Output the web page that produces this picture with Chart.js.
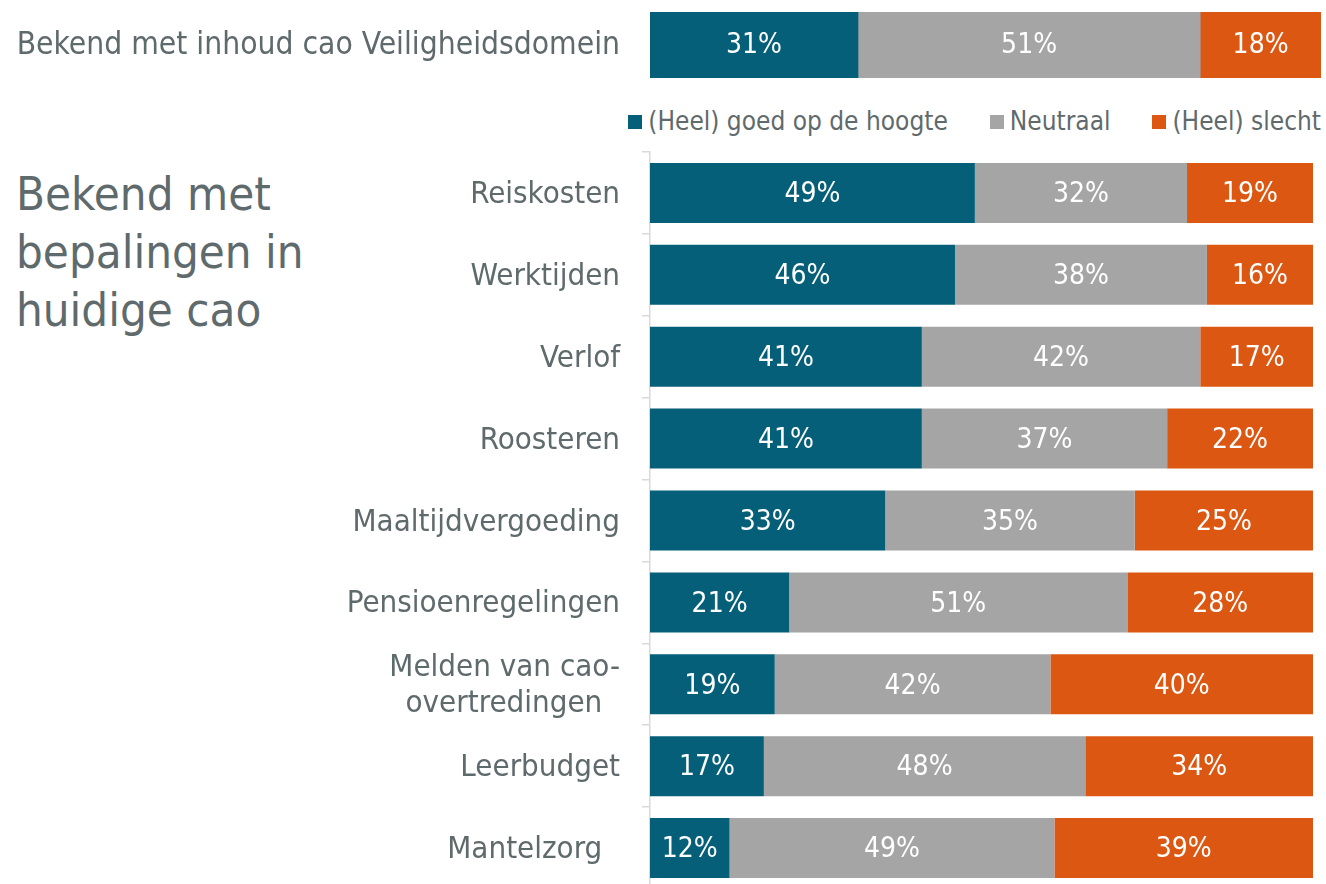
<!DOCTYPE html>
<html>
<head>
<meta charset="utf-8">
<script src="https://cdn.jsdelivr.net/npm/chart.js@4.4.1/dist/chart.umd.min.js"></script>
<style>
html, body { margin:0; padding:0; background:#fff; overflow:hidden; width:1326px; height:884px; }
body { position:relative; font-family:"DejaVu Sans Condensed", sans-serif; color:#5f6a6c; }
#topCanvas { position:absolute; left:0; top:0; }
#mainCanvas { position:absolute; left:0; top:142px; }
#titel { position:absolute; left:16px; top:165px; font-size:47px; line-height:58px; }
#legenda { position:absolute; right:5px; top:105px; font-size:26px; line-height:32px; display:flex; gap:42px; white-space:nowrap; }
#legenda span.blok { display:inline-block; width:14px; height:14px; margin-right:6px; vertical-align:1px; }
</style>
</head>
<body>
<canvas id="topCanvas" width="1326" height="90"></canvas>
<div id="legenda"></div>
<div id="titel">Bekend met<br>bepalingen in<br>huidige cao</div>
<canvas id="mainCanvas" width="1326" height="760"></canvas>
<script>
const reeksen = ['(Heel) goed op de hoogte', 'Neutraal', '(Heel) slecht'];
const kleuren = ['#065f78', '#a5a5a5', '#dc5711'];

const topCategorie = ['Bekend met inhoud cao Veiligheidsdomein'];
const topGoed = [31];
const topNeutraal = [51];
const topSlecht = [18];

const categorieen = ['Reiskosten', 'Werktijden', 'Verlof', 'Roosteren', 'Maaltijdvergoeding',
    'Pensioenregelingen', ['Melden van cao-', 'overtredingen  '], 'Leerbudget', 'Mantelzorg  '];
const goed = [49, 46, 41, 41, 33, 21, 19, 17, 12];
const neutraal = [32, 38, 42, 37, 35, 51, 42, 48, 49];
const slecht = [19, 16, 17, 22, 25, 28, 40, 34, 39];

const tekstKleur = '#5f6a6c';
const fontNaam = '"DejaVu Sans Condensed", sans-serif';

// balken vullen altijd tot 100%, labels tonen de afgeronde waarde
function naarAandeel(rijen){
    return rijen.map(rij => rij.map((v, i) => {
        const som = rijen.reduce((t, x) => t + x[i], 0);
        return v / som * 100;
    }));
}

function maakDatasets(rijen, dikte){
    const aandelen = naarAandeel(rijen);
    return rijen.map((rij, r) => ({
        label: reeksen[r],
        data: aandelen[r],
        ruw: rij,
        backgroundColor: kleuren[r],
        borderWidth: 0,
        barPercentage: dikte,
        categoryPercentage: 1
    }));
}

const balkLabels = {
    id: 'balkLabels',
    afterDatasetsDraw(chart, args, opts){
        const ctx = chart.ctx;
        ctx.save();
        ctx.fillStyle = '#ffffff';
        ctx.font = opts.font;
        ctx.textAlign = 'center';
        ctx.textBaseline = 'middle';
        chart.data.datasets.forEach((ds, i) => {
            chart.getDatasetMeta(i).data.forEach((bar, j) => {
                ctx.fillText(ds.ruw[j] + '%', (bar.x + bar.base) / 2, bar.y + (opts.dy || 0));
            });
        });
        ctx.restore();
    }
};

// y-as mag geen extra ruimte boven/onder claimen voor de labels
function vasteAs(s){
    s.width = 650;
    s.paddingTop = 0;
    s.paddingBottom = 0;
}

// legenda
const legenda = document.getElementById('legenda');
reeksen.forEach((naam, i) => {
    const item = document.createElement('div');
    item.innerHTML = `<span class="blok" style="background:${kleuren[i]}"></span>${naam}`;
    legenda.appendChild(item);
});

new Chart(document.getElementById('topCanvas'), {
    type: 'bar',
    data: { labels: topCategorie, datasets: maakDatasets([topGoed, topNeutraal, topSlecht], 1) },
    plugins: [balkLabels],
    options: {
        indexAxis: 'y',
        responsive: false,
        animation: false,
        layout: { padding: { top: 12, bottom: 12, right: 5, left: 0 } },
        plugins: {
            legend: { display: false },
            tooltip: { enabled: false },
            balkLabels: { font: '28px ' + fontNaam, dy: 1 }
        },
        scales: {
            x: { stacked: true, min: 0, max: 100, display: false },
            y: {
                stacked: true,
                grid: { display: false, drawTicks: false },
                border: { display: false },
                ticks: { color: tekstKleur, padding: 30, labelOffset: 1, font: { family: fontNaam, size: 31.5 } },
                afterFit: vasteAs
            }
        }
    }
});

new Chart(document.getElementById('mainCanvas'), {
    type: 'bar',
    data: { labels: categorieen, datasets: maakDatasets([goed, neutraal, slecht], 0.733) },
    plugins: [balkLabels],
    options: {
        indexAxis: 'y',
        responsive: false,
        animation: false,
        layout: { padding: { top: 10, bottom: 13, right: 13, left: 0 } },
        plugins: {
            legend: { display: false },
            tooltip: { enabled: false },
            balkLabels: { font: '28px ' + fontNaam, dy: 2 }
        },
        scales: {
            x: { stacked: true, min: 0, max: 100, display: false },
            y: {
                stacked: true,
                grid: { offset: true, drawOnChartArea: false, drawTicks: true, tickLength: 8, color: '#d9d9d9', lineWidth: 1.5 },
                border: { display: true, color: '#d9d9d9', width: 1.5 },
                ticks: { color: tekstKleur, padding: 22, labelOffset: 2, font: { family: fontNaam, size: 31, lineHeight: 1.15 } },
                afterFit: vasteAs
            }
        }
    }
});
</script>
</body>
</html>
